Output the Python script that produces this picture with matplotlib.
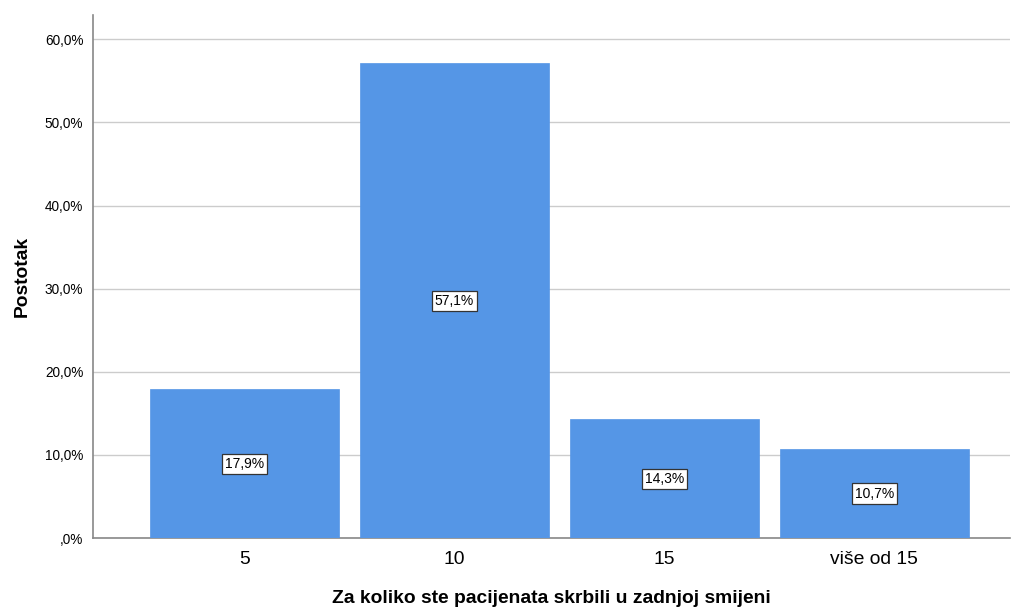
import matplotlib.pyplot as plt
from matplotlib.ticker import FuncFormatter

plt.rcParams['font.family'] = ['Liberation Sans', 'DejaVu Sans']

categories = ['5', '10', '15', 'više od 15']
values = [17.9, 57.1, 14.3, 10.7]
yticks = [0, 10, 20, 30, 40, 50, 60]


def pct(v):
    s = '%.1f' % v
    if s.startswith('0'):
        s = s[1:]
    return s.replace('.', ',') + '%'


fig = plt.figure(figsize=(10.13, 6.1), dpi=100)
ax = fig.add_axes([0.0918, 0.118, 0.905, 0.857])

x = list(range(len(categories)))
bars = ax.bar(x, values, width=0.9, color='#5596e6', edgecolor='#5596e6',
              linewidth=0.5, zorder=3)

for xi, v in zip(x, values):
    ax.text(xi, v / 2, pct(v), ha='center', va='center', fontsize=10,
            zorder=4, bbox=dict(boxstyle='square,pad=0.22', fc='white',
                                ec='#333333', lw=0.9))

ax.set_xlim(-0.721, 3.645)
ax.set_ylim(0, 62.9)
ax.set_yticks(yticks)
ax.yaxis.set_major_formatter(FuncFormatter(lambda v, p: pct(v)))
ax.set_xticks(x)
ax.set_xticklabels(categories, fontsize=13.9)
ax.tick_params(axis='y', labelsize=9.8, length=0, pad=7)
ax.tick_params(axis='x', length=0, pad=9)
ax.grid(axis='y', color='#cccccc', linewidth=1, zorder=0)

for side in ['top', 'right']:
    ax.spines[side].set_visible(False)
for side in ['left', 'bottom']:
    ax.spines[side].set_color('#888888')
    ax.spines[side].set_linewidth(1.2)

ax.set_ylabel('Postotak', fontsize=13.9, fontweight='bold', labelpad=10)
ax.set_xlabel('Za koliko ste pacijenata skrbili u zadnjoj smijeni',
              fontsize=13.9, fontweight='bold', labelpad=16)

fig.savefig('out.png', dpi=100)
